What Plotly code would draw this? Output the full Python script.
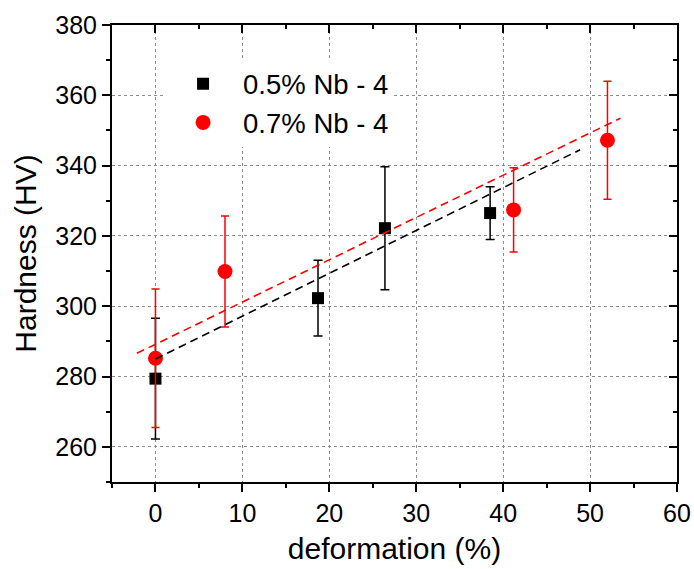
import plotly.graph_objects as go

# Data
x_nb05 = [0, 18.7, 26.4, 38.5]
y_nb05 = [279.4, 302.3, 322.2, 326.5]
e_nb05 = [17.2, 10.8, 17.5, 7.5]

x_nb07 = [0, 8.0, 41.2, 52.0]
y_nb07 = [285.2, 309.9, 327.4, 347.2]
e_nb07 = [19.7, 15.8, 12.0, 16.8]

fit05_x = [0, 48.85]
fit05_y = [285.0, 344.5]
fit07_x = [-2.14, 53.5]
fit07_y = [286.6, 353.5]

labels = ["0.5% Nb - 4", "0.7% Nb - 4"]

FONT = "Arial, Liberation Sans, sans-serif"

fig = go.Figure()

fig.add_trace(go.Scatter(
    x=x_nb05, y=y_nb05, mode="markers", name=labels[0],
    marker=dict(symbol="square", size=12, color="black"),
    error_y=dict(type="data", array=e_nb05, color="black", thickness=1.5, width=4.5),
))
fig.add_trace(go.Scatter(
    x=x_nb07, y=y_nb07, mode="markers", name=labels[1],
    marker=dict(symbol="circle", size=15, color="#ff0000"),
    error_y=dict(type="data", array=e_nb07, color="#ff0000", thickness=1.5, width=4),
))
fig.add_trace(go.Scatter(
    x=fit05_x, y=fit05_y, mode="lines", showlegend=False,
    line=dict(color="black", width=1.6, dash="8px,5px"),
))
fig.add_trace(go.Scatter(
    x=fit07_x, y=fit07_y, mode="lines", showlegend=False,
    line=dict(color="#ff0000", width=1.6, dash="8px,5px"),
))
# invisible trace so that the mirror axes are drawn
fig.add_trace(go.Scatter(x=[None], y=[None], xaxis="x2", yaxis="y2",
                         showlegend=False, hoverinfo="skip"))

XR = [-5, 60]
YR = [250, 380]
grid = dict(showgrid=True, gridcolor="#8c8c8c", gridwidth=1, griddash="3px,3px")

fig.update_layout(
    width=694, height=569,
    margin=dict(l=112, r=17, t=25, b=87, autoexpand=False),
    paper_bgcolor="white", plot_bgcolor="white",
    font=dict(family=FONT, size=25, color="black"),
    showlegend=True,
    legend=dict(x=0.0904, y=0.925, xanchor="left", yanchor="top",
                bgcolor="white", borderwidth=0,
                font=dict(family=FONT, size=27.5, color="black"),
                itemwidth=70, tracegroupgap=0),
    xaxis=dict(range=XR, tick0=0, dtick=10, ticks="outside", ticklen=8,
               tickwidth=1.5, tickcolor="black", showline=True, linewidth=2,
               linecolor="black", zeroline=False, automargin=False,
               minor=dict(dtick=5, ticks="outside", ticklen=4, tickwidth=1.5,
                          tickcolor="black", showgrid=False),
               title=dict(text="deformation (%)", font=dict(size=30), standoff=12),
               tickfont=dict(size=25), **grid),
    yaxis=dict(range=YR, tick0=0, dtick=20, ticks="outside", ticklen=8,
               tickwidth=1.5, tickcolor="black", showline=True, linewidth=2,
               linecolor="black", zeroline=False, automargin=False,
               minor=dict(dtick=10, ticks="outside", ticklen=4, tickwidth=1.5,
                          tickcolor="black", showgrid=False),
               title=dict(text="Hardness (HV)", font=dict(size=30), standoff=10),
               tickfont=dict(size=25), **grid),
    xaxis2=dict(range=XR, overlaying="x", side="top", anchor="y2",
                tick0=0, dtick=10, ticks="inside", ticklen=8, tickwidth=1.5,
                tickcolor="black", showline=True, linewidth=2, linecolor="black",
                showticklabels=False, showgrid=False, zeroline=False,
                minor=dict(dtick=5, ticks="inside", ticklen=4, tickwidth=1.5,
                           tickcolor="black", showgrid=False)),
    yaxis2=dict(range=YR, overlaying="y", side="right", anchor="x2",
                tick0=0, dtick=20, ticks="inside", ticklen=8, tickwidth=1.5,
                tickcolor="black", showline=True, linewidth=2, linecolor="black",
                showticklabels=False, showgrid=False, zeroline=False,
                minor=dict(dtick=10, ticks="inside", ticklen=4, tickwidth=1.5,
                           tickcolor="black", showgrid=False)),
)

fig.write_html("out.html")
